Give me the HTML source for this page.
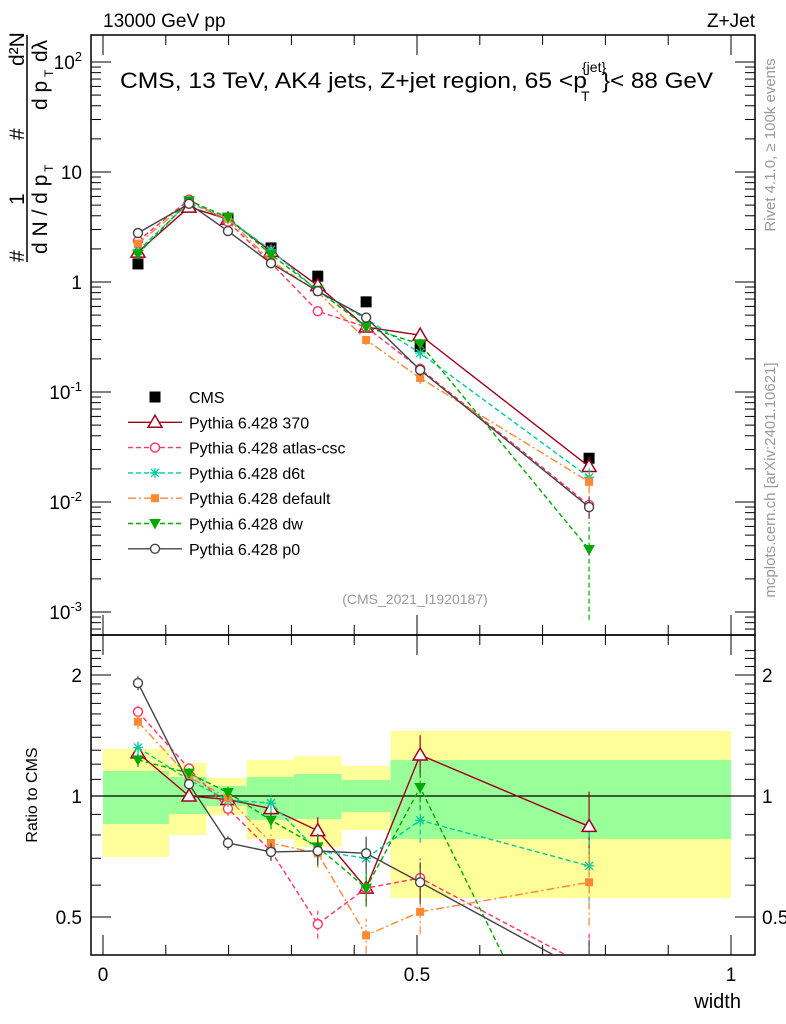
<!DOCTYPE html>
<html><head><meta charset="utf-8"><style>
html,body{margin:0;padding:0;background:#fff;overflow:hidden;width:786px;height:1024px;}
svg{display:block;font-family:"Liberation Sans",sans-serif;}
</style></head><body>
<svg id="c" width="786" height="1024" viewBox="0 0 786 1024"></svg>
<script>
const xs=[0.0557,0.137,0.199,0.2675,0.342,0.419,0.505,0.774];
const cmsVals=[1.46,4.8,3.8,2.04,1.13,0.66,0.26,0.025];
const r370=[1.28,1.0,0.98,0.93,0.82,0.59,1.265,0.84];
const rAtlas=[1.62,1.17,0.93,0.73,0.48,0.59,0.625,0.375];
const rD6t=[1.32,1.096,0.977,0.96,0.73,0.70,0.87,0.67];
const rDefault=[1.53,1.115,0.99,0.764,0.72,0.45,0.515,0.61];
const rDw=[1.23,1.14,1.02,0.87,0.747,0.59,1.05,0.148];
const rP0=[1.91,1.07,0.764,0.726,0.73,0.72,0.61,0.36];
const relErr=[0.04,0.03,0.04,0.05,0.08,0.1,0.12,0.22];
const binEdges=[0,0.105,0.165,0.229,0.304,0.38,0.458,1.0];
const yelLo=[0.705,0.80,0.897,0.782,0.747,0.823,0.557];
const yelHi=[1.309,1.208,1.109,1.229,1.257,1.188,1.451];
const grnLo=[0.852,0.902,0.944,0.872,0.877,0.912,0.782];
const grnHi=[1.154,1.115,1.059,1.115,1.134,1.096,1.229];

const NS="http://www.w3.org/2000/svg";
const svg=document.getElementById('c');
const L=91,R=755,T=35,MB=635,B=955;
const X=v=>103+628*v;
const Ym=v=>282-110*Math.log10(v);
const Yr=v=>796-121*Math.log2(v);
function mk(tag,at,parent){const e=document.createElementNS(NS,tag);for(const k in at)e.setAttribute(k,at[k]);(parent||svg).appendChild(e);return e;}
function tx(s,x,y,at,parent){const e=mk('text',Object.assign({x:x,y:y,'font-size':18},at||{}),parent);e.textContent=s;return e;}

const defs=mk('defs',{});
const cm=mk('clipPath',{id:'cm'},defs);mk('rect',{x:L,y:T,width:R-L,height:MB-T},cm);
const cr=mk('clipPath',{id:'cr'},defs);mk('rect',{x:L,y:MB,width:R-L,height:B-MB},cr);

const bands=mk('g',{'clip-path':'url(#cr)'});


for(let i=0;i<yelLo.length;i++){
  const x0=X(binEdges[i]),x1=X(binEdges[i+1]);
  const y=mk('rect',{x:x0,y:Yr(yelHi[i]),width:x1-x0,height:Yr(yelLo[i])-Yr(yelHi[i]),fill:'#ffff99'},bands);
  
  
  const g=mk('rect',{x:x0,y:Yr(grnHi[i]),width:x1-x0,height:Yr(grnLo[i])-Yr(grnHi[i]),fill:'#99ff99'},bands);
  
  
}
const one=mk('line',{x1:L,x2:R,y1:Yr(1),y2:Yr(1),stroke:'#000','stroke-width':1.3});



const f1=mk('rect',{x:L,y:T,width:R-L,height:MB-T,fill:'none',stroke:'#000','stroke-width':1.5});


const f2=mk('rect',{x:L,y:MB,width:R-L,height:B-MB,fill:'none',stroke:'#000','stroke-width':1.5});



const tk=mk('g',{stroke:'#000','stroke-width':1});


for(let d=-4;d<=2;d++){for(let m=1;m<10;m++){const v=m*Math.pow(10,d);const y=Ym(v);if(y<T||y>MB)continue;const len=m==1?20:10;
 mk('line',{x1:L,x2:L+len,y1:y,y2:y},tk);mk('line',{x1:R,x2:R-len,y1:y,y2:y},tk);}}
for(let v=0.4;v<=2.4;v+=0.1){const y=Yr(v);if(y<MB||y>B)continue;const maj=[0.5,1,2].some(q=>Math.abs(q-v)<1e-6);const len=maj?20:10;
 mk('line',{x1:L,x2:L+len,y1:y,y2:y},tk);mk('line',{x1:R,x2:R-len,y1:y,y2:y},tk);}
for(let i=0;i<=10;i++){const x=X(i/10);const len=i%5==0?20:10;
 mk('line',{x1:x,x2:x,y1:B,y2:B-len},tk);mk('line',{x1:x,x2:x,y1:MB,y2:MB-len},tk);mk('line',{x1:x,x2:x,y1:MB,y2:MB+len},tk);mk('line',{x1:x,x2:x,y1:T,y2:T+len},tk);}

const ml=[2,1,0,-1,-2,-3];
ml.forEach(e=>{const y=Ym(Math.pow(10,e))+7;let t;
 if(e==0||e==1){t=tx(e==0?'1':'10',82,y,{'text-anchor':'end','font-size':19});}
 else{t=tx('',82,y,{'text-anchor':'end','font-size':19});const s1=mk('tspan',{},t);s1.textContent='10';const s2=mk('tspan',{dy:-8,'font-size':13},t);s2.textContent=String(e);}
 
 });
[['2',2],['1',1],['0.5',0.5]].forEach(([s,v])=>{
 const a=tx(s,82,Yr(v)+7,{'text-anchor':'end','font-size':19});
 
 
 const b=tx(s,762,Yr(v)+7,{'font-size':19});
 
 });
[['0',0],['0.5',0.5],['1',1]].forEach(([s,v])=>{const t=tx(s,X(v),981,{'text-anchor':'middle','font-size':19});
 
 });

let t;
t=tx('13000 GeV pp',103,27,{'font-size':19});
t=tx('Z+Jet',755,27,{'font-size':19,'text-anchor':'end'});
t=tx('width',741,1008,{'font-size':20,'text-anchor':'end'});
t=tx('Ratio to CMS',0,0,{'font-size':16,'text-anchor':'middle',transform:'translate(37,795) rotate(-90)'});
t=tx('(CMS_2021_I1920187)',415,604,{'font-size':14,'text-anchor':'middle',fill:'#999'});
t=tx('Rivet 4.1.0, \u2265 100k events',0,0,{'font-size':15,fill:'#999','text-anchor':'middle',transform:'translate(775,145) rotate(-90)'});
t=tx('mcplots.cern.ch [arXiv:2401.10621]',0,0,{'font-size':15,fill:'#999','text-anchor':'middle',transform:'translate(775,480) rotate(-90)'});
t=tx('CMS, 13 TeV, AK4 jets, Z+jet region, 65 <p',120,88,{'font-size':22,textLength:467,lengthAdjust:'spacingAndGlyphs'});
t=tx('{jet}',582,72,{'font-size':14});
t=tx('T',581,101,{'font-size':14});
t=tx('}< 88 GeV',602,88,{'font-size':22,textLength:111,lengthAdjust:'spacingAndGlyphs'});

const yt=mk('g',{transform:'translate(38,150) rotate(-90)'});


tx('#',-112,-14,{'font-size':21},yt);
tx('1',-55,-14,{'font-size':21},yt);
tx('#',10,-14,{'font-size':21},yt);
tx('d\u00b2N',84,-14,{'font-size':21},yt);
mk('line',{x1:-112,x2:115,y1:-11,y2:-11,stroke:'#000','stroke-width':1.5},yt);
tx('d N / d p',-104,9,{'font-size':21},yt);
tx('T',-22,15,{'font-size':12},yt);
tx('d p',40,9,{'font-size':21},yt);
tx('T',73,15,{'font-size':12},yt);
tx('d\u03bb',88,9,{'font-size':21},yt);

const series=[
 {name:'Pythia 6.428 370',r:r370,c:'#a0001c',dash:'',m:'tri'},
 {name:'Pythia 6.428 atlas-csc',r:rAtlas,c:'#ff3366',dash:'5,3',m:'circ'},
 {name:'Pythia 6.428 d6t',r:rD6t,c:'#00cc99',dash:'5,3',m:'star'},
 {name:'Pythia 6.428 default',r:rDefault,c:'#ff8833',dash:'8,3,2,3',m:'sq'},
 {name:'Pythia 6.428 dw',r:rDw,c:'#00aa00',dash:'5,3',m:'tridn'},
 {name:'Pythia 6.428 p0',r:rP0,c:'#444444',dash:'',m:'circ'}
];
function marker(type,x,y,c,g){
 if(type=='tri')return mk('polygon',{points:`${x},${y-7} ${x-7},${y+5} ${x+7},${y+5}`,fill:'#fff',stroke:c,'stroke-width':1.5},g);
 if(type=='tridn')return mk('polygon',{points:`${x},${y+5} ${x-5},${y-4} ${x+5},${y-4}`,fill:c,stroke:c},g);
 if(type=='circ')return mk('circle',{cx:x,cy:y,r:4.5,fill:'#fff',stroke:c,'stroke-width':1.4},g);
 if(type=='sq')return mk('rect',{x:x-4,y:y-4,width:8,height:8,fill:c},g);
 if(type=='cms')return mk('rect',{x:x-5.5,y:y-5.5,width:11,height:11,fill:'#000'},g);
 return mk('path',{d:`M${x-5},${y}H${x+5}M${x},${y-5}V${y+5}M${x-4},${y-4}L${x+4},${y+4}M${x-4},${y+4}L${x+4},${y-4}`,stroke:c,'stroke-width':1.3},g);
}
function drawSeries(sr,idx){
 const main=mk('g',{'clip-path':'url(#cm)'});
 
 
 const rat=mk('g',{'clip-path':'url(#cr)'});
 
 
 const vals=sr.r.map((r,i)=>r*cmsVals[i]);
 mk('polyline',{points:xs.map((x,i)=>X(x)+','+Ym(vals[i])).join(' '),fill:'none',stroke:sr.c,'stroke-width':1.4,'stroke-dasharray':sr.dash},main);
 mk('polyline',{points:xs.map((x,i)=>X(x)+','+Yr(sr.r[i])).join(' '),fill:'none',stroke:sr.c,'stroke-width':1.4,'stroke-dasharray':sr.dash},rat);
 xs.forEach((x,i)=>{
  let e=relErr[i]*(sr.m=='tridn'&&i==7?3.5:1);
  const lo=Math.max(vals[i]*(1-e),1e-6),hi=vals[i]*(1+e);
  mk('line',{x1:X(x),x2:X(x),y1:Ym(lo),y2:Ym(hi),stroke:sr.c,'stroke-width':1.2,'stroke-dasharray':sr.dash},main);
  mk('line',{x1:X(x),x2:X(x),y1:Yr(Math.max(sr.r[i]*(1-e),1e-3)),y2:Yr(sr.r[i]*(1+e)),stroke:sr.c,'stroke-width':1.2,'stroke-dasharray':sr.dash},rat);
  const pm=marker(sr.m,X(x),Ym(vals[i]),sr.c,main);
  
  
  const pr=marker(sr.m,X(x),Yr(sr.r[i]),sr.c,rat);
  
  
 });
}
const cg=mk('g',{'clip-path':'url(#cm)'});


xs.forEach((x,i)=>{const p=marker('cms',X(x),Ym(cmsVals[i]),'#000',cg);
 
 });
series.forEach((sr,i)=>drawSeries(sr,i));

const lg=mk('g',{});


const ly0=397,ldy=25.3;
let le=mk('g',{},lg);


marker('cms',155,ly0,'#000',le);tx('CMS',189,ly0+6,{'font-size':16},le);
series.forEach((sr,i)=>{const y=ly0+ldy*(i+1);
 const g=mk('g',{},lg);
 
 
 mk('line',{x1:128,x2:182,y1:y,y2:y,stroke:sr.c,'stroke-width':1.4,'stroke-dasharray':sr.dash},g);
 marker(sr.m,155,y,sr.c,g);
 tx(sr.name,189,y+6,{'font-size':16},g);});
</script>
</body></html>
